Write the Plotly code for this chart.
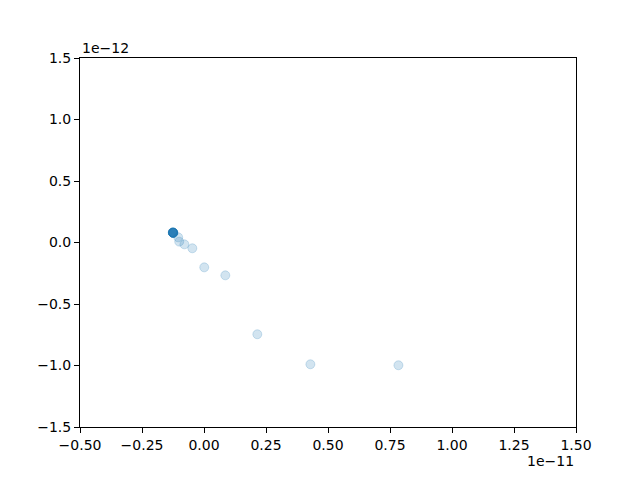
import plotly.graph_objects as go

# values (x in units of 1e-11, y in units of 1e-12)
x_vals = [-0.125, -0.125, -0.126, -0.124, -0.125, -0.125, -0.124, -0.126, -0.125, -0.125,
          -0.123, -0.125, -0.104, -0.100, -0.079, -0.047, 0.001, 0.086, 0.215, 0.429, 0.784]
y_vals = [0.080, 0.080, 0.082, 0.079, 0.081, 0.080, 0.078, 0.081, 0.080, 0.079,
          0.077, 0.080, 0.042, 0.007, -0.015, -0.047, -0.202, -0.267, -0.746, -0.990, -0.998]

x_ticks = [-0.5, -0.25, 0.0, 0.25, 0.5, 0.75, 1.0, 1.25, 1.5]
y_ticks = [-1.5, -1.0, -0.5, 0.0, 0.5, 1.0, 1.5]

# face and edge get alpha separately (like matplotlib), so the edge shows as a faint ring
blue_a = 'rgba(31,119,180,0.2)'
font = dict(family='DejaVu Sans', size=14, color='black')


def fmt(v, nd):
    # matplotlib style labels use a real minus sign
    return ('%.*f' % (nd, v)).replace('-', '\u2212')


fig = go.Figure()
fig.add_trace(go.Scatter(
    x=x_vals, y=y_vals, mode='markers',
    marker=dict(size=9, color=blue_a, line=dict(width=1, color=blue_a)),
    showlegend=False,
))

axis_common = dict(showgrid=False, zeroline=False, showline=True, linecolor='black',
                   linewidth=1, mirror=True, ticks='outside', ticklen=5, tickwidth=1,
                   tickcolor='black', tickfont=font)

fig.update_xaxes(range=[-0.5, 1.5], tickvals=x_ticks,
                 ticktext=[fmt(v, 2) for v in x_ticks], **axis_common)
fig.update_yaxes(range=[-1.5, 1.5], tickvals=y_ticks,
                 ticktext=[fmt(v, 1) for v in y_ticks], **axis_common)

fig.add_annotation(text='1e\u221212', xref='paper', yref='paper', x=0, y=1,
                   xanchor='left', yanchor='bottom', showarrow=False, font=font, yshift=0)
fig.add_annotation(text='1e\u221211', xref='paper', yref='paper', x=1, y=0,
                   xanchor='right', yanchor='top', showarrow=False, font=font, yshift=-24)

# page body has an 8px margin, so margins are shifted to land the axes box where it should be
fig.update_layout(width=640, height=480, plot_bgcolor='white', paper_bgcolor='white',
                  margin=dict(l=72, r=72, t=50, b=61), font=font)

fig.write_html("out.html")
